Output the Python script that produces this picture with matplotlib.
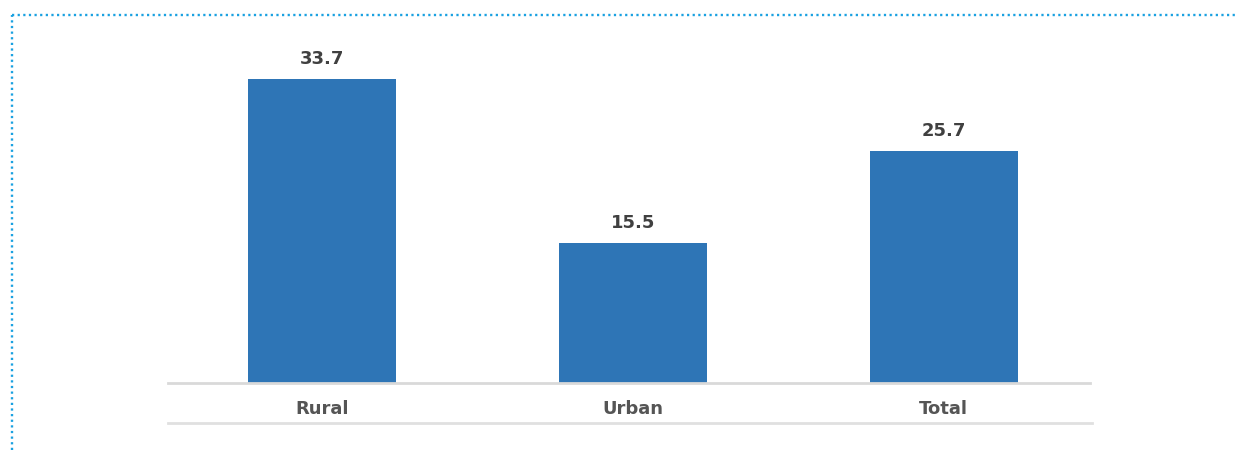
import matplotlib.pyplot as plt
from matplotlib.lines import Line2D

plt.rcParams['font.family'] = ['DejaVu Sans']
plt.rcParams['lines.scale_dashes'] = False

categories = ['Rural', 'Urban', 'Total']
values = [33.7, 15.5, 25.7]

fig = plt.figure(figsize=(12.36, 4.5), dpi=100)
# axes from x=168..1090 px, baseline at y=383 px
ax = fig.add_axes([168 / 1236, 67 / 450, 922 / 1236, 353 / 450])

ax.bar(range(len(categories)), values, width=0.476, color='#2E75B6', zorder=2)
ax.set_xlim(-0.495, 2.47)
ax.set_ylim(0, 353 / 9.02)

for i, v in enumerate(values):
    ax.annotate(f'{v}', (i, v), xytext=(0, 8), textcoords='offset points',
                ha='center', va='bottom', fontsize=13, fontweight='bold',
                color='#404040')

ax.set_xticks(range(len(categories)))
ax.set_xticklabels(categories, fontsize=13, fontweight='bold', color='#555555')
ax.tick_params(axis='x', length=0, pad=12)
ax.set_yticks([])
for s in ['top', 'right', 'left']:
    ax.spines[s].set_visible(False)
ax.spines['bottom'].set_color('#d9d9d9')
ax.spines['bottom'].set_linewidth(2)

# lower rule under the labels
fig.add_artist(Line2D([168 / 1236, 1092 / 1236], [27 / 450, 27 / 450],
                      color='#e0e0e0', lw=2))

# dotted frame top and left
dot = dict(color='#1AA1E1', lw=1.7, linestyle=(0, (1.6, 2.45)))
fig.add_artist(Line2D([12 / 1236, 1], [435 / 450, 435 / 450], **dot))
fig.add_artist(Line2D([12 / 1236, 12 / 1236], [0, 435 / 450], **dot))

fig.savefig('out.png', dpi=100)
